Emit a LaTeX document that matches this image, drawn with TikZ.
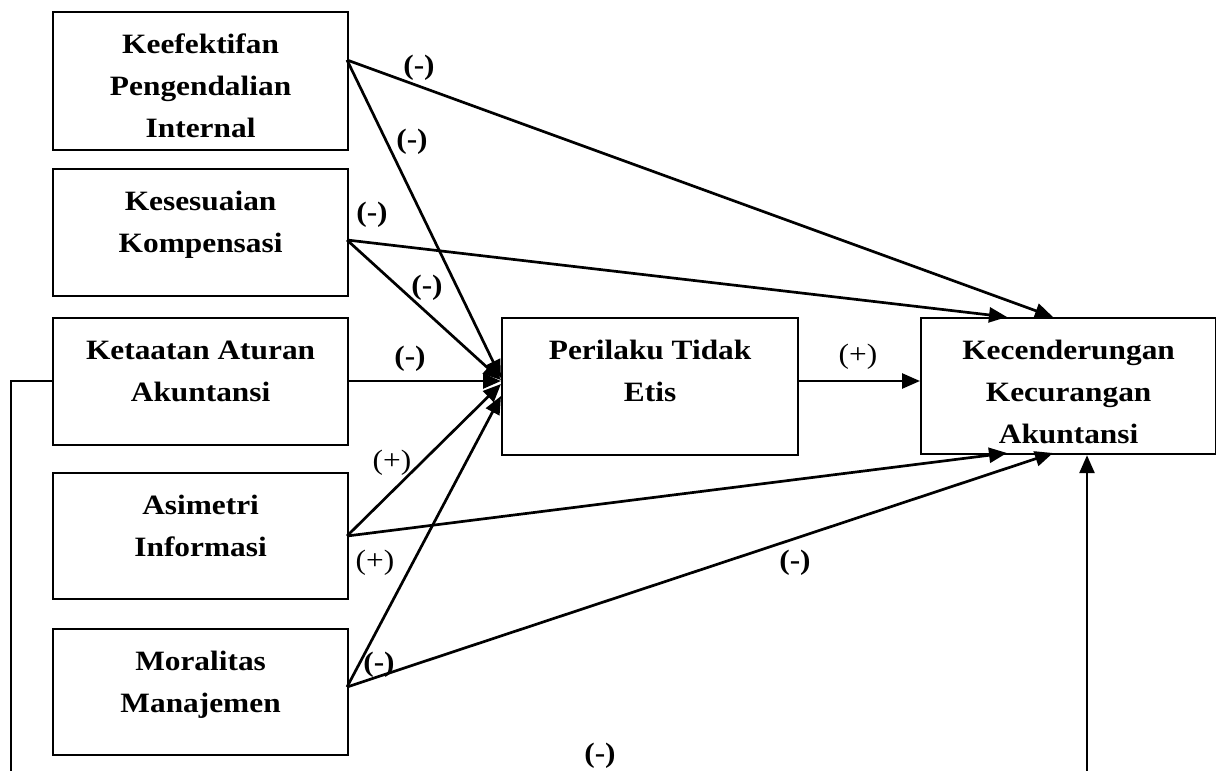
\documentclass[tikz,border=0pt]{standalone}
\usepackage{fontspec}
\setmainfont{Liberation Serif}[FakeStretch=1.12]
\usetikzlibrary{arrows.meta,calc}
\begin{document}
\begin{tikzpicture}[x=1pt,y=-1pt,
  box/.style={draw, line width=2.2pt, anchor=north west, inner sep=0pt},
  txt/.style={font=\bfseries\fontsize{28}{42}\selectfont, align=center, anchor=north, inner sep=0pt},
  ln/.style={line width=2.7pt},
  arr/.style={line width=2.7pt, -{Triangle[length=18pt,width=15pt]}},
  lbm/.style={font=\bfseries\fontsize{28}{34}\selectfont, inner sep=0pt},
  lbp/.style={font=\fontsize{28}{34}\selectfont, inner sep=0pt}]
\path[use as bounding box] (0,0) rectangle (1216,771);
\clip (0,0) rectangle (1216,771);

% left boxes
\node[box, minimum width=295pt, minimum height=138pt] (b1) at (52,11) {};
\node[box, minimum width=295pt, minimum height=127pt] (b2) at (52,168) {};
\node[box, minimum width=295pt, minimum height=127pt] (b3) at (52,317) {};
\node[box, minimum width=295pt, minimum height=126pt] (b4) at (52,472) {};
\node[box, minimum width=295pt, minimum height=126pt] (b5) at (52,628) {};
\node[box, minimum width=296pt, minimum height=137pt] (pe) at (501,317) {};
\node[box, minimum width=295pt, minimum height=136pt] (k) at (920,317) {};

\node[txt] (t1) at ($(b1.north)+(0,12)$) {\rule{0pt}{30pt}Keefektifan\\Pengendalian\\Internal};
\node[txt] (t2) at ($(b2.north)+(0,12)$) {\rule{0pt}{30pt}Kesesuaian\\Kompensasi};
\node[txt] (t3) at ($(b3.north)+(0,12)$) {\rule{0pt}{30pt}Ketaatan Aturan\\Akuntansi};
\node[txt] (t4) at ($(b4.north)+(0,12)$) {\rule{0pt}{30pt}Asimetri\\Informasi};
\node[txt] (t5) at ($(b5.north)+(0,12)$) {\rule{0pt}{30pt}Moralitas\\Manajemen};
\node[txt] (tp) at ($(pe.north)+(0,12)$) {\rule{0pt}{30pt}Perilaku Tidak\\Etis};
\node[txt] (tk) at ($(k.north)+(0,12)$) {\rule{0pt}{30pt}Kecenderungan\\Kecurangan\\Akuntansi};

% attach points
\coordinate (o1) at (347,60);
\coordinate (o2) at (347,240);
\coordinate (o3) at (347,381);
\coordinate (o4) at (347,536);
\coordinate (o5) at (347,687);
\coordinate (p1) at (501,378);
\coordinate (p2) at (501,380);
\coordinate (p3) at (501,381);
\coordinate (p4) at (501,384);
\coordinate (p5) at (501,396);
\coordinate (kt1) at (1053,317);
\coordinate (kt2) at (1007,317);
\coordinate (kb4) at (1007,453);
\coordinate (kb5) at (1053,453);
\coordinate (lp) at (11,381);
\coordinate (lb) at (11,800);
\coordinate (rb) at (1087,800);

% connectors
\draw[arr] (o1) -- (kt1);
\draw[arr] (o1) -- (p1);
\draw[arr] (o2) -- (kt2);
\draw[arr] (o2) -- (p2);
\draw[arr] (o3) -- (p3);
\draw[arr] (o4) -- (p4);
\draw[arr] (o4) -- (kb4);
\draw[arr] (o5) -- (p5);
\draw[arr] (o5) -- (kb5);
\draw[arr] (pe.east |- o3) -- (k.west |- o3);
\draw[ln] (b3.west |- lp) -- (lp) -- (lb);
\draw[arr] (rb) -- (rb |- k.south);

% labels
\node[lbm] (l1) at (419,68) {(-)};
\node[lbm] (l2) at (412,142) {(-)};
\node[lbm] (l3) at (372,215) {(-)};
\node[lbm] (l4) at (427,288) {(-)};
\node[lbm] (l5) at (410,359) {(-)};
\node[lbp] (l6) at (858,357) {(+)};
\node[lbp] (l7) at (392,463) {(+)};
\node[lbp] (l8) at (375,563) {(+)};
\node[lbm] (l9) at (379,665) {(-)};
\node[lbm] (l10) at (795,563) {(-)};
\node[lbm] (l11) at (600,756) {(-)};
\end{tikzpicture}
\end{document}
